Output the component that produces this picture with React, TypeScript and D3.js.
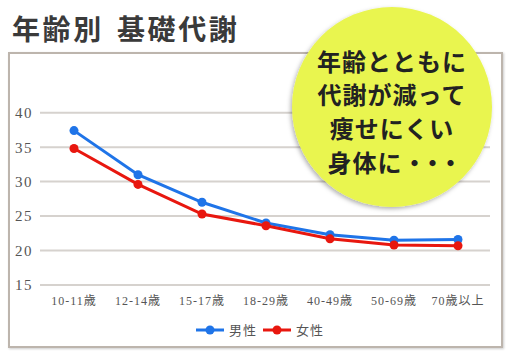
import React from "react";
import * as d3 from "d3";

const categories = ["10-11歳", "12-14歳", "15-17歳", "18-29歳", "40-49歳", "50-69歳", "70歳以上"];
const maleValues = [37.4, 31.0, 27.0, 24.0, 22.3, 21.5, 21.6];
const femaleValues = [34.8, 29.6, 25.3, 23.6, 21.7, 20.8, 20.7];
const yTicks = [15, 20, 25, 30, 35, 40];
const seriesNames = ["男性", "女性"];
const seriesColors = ["#1f74e8", "#e8170f"];
const titleParts = ["年齢別", "基礎代謝"];
const bubbleLines = ["年齢とともに", "代謝が減って", "痩せにくい", "身体に"];
const bubbleDots = "・・・";

const W = 512;
const H = 353;
const serif = "'Liberation Serif', 'Noto Sans CJK JP', serif";
const cjk = "'Noto Sans CJK JP', sans-serif";

export default function App() {
  const x = d3.scalePoint<string>().domain(categories).range([74, 458]);
  const y = d3.scaleLinear().domain([15, 40]).range([285, 112.7]);
  const line = d3
    .line<number>()
    .x((_, i) => x(categories[i]) as number)
    .y((d) => y(d));
  const series = [maleValues, femaleValues];

  return (
    <div style={{ position: "absolute", left: 0, top: 0 }}>
      <svg width={W} height={H} style={{ display: "block", background: "#fff" }}>
        <defs>
          <filter id="bshadow" x="-20%" y="-20%" width="140%" height="140%">
            <feDropShadow dx="-1.5" dy="2" stdDeviation="2" floodColor="#000" floodOpacity="0.3" />
          </filter>
          <filter id="boxshadow" x="-5%" y="-5%" width="110%" height="110%">
            <feDropShadow dx="1" dy="1" stdDeviation="1" floodColor="#000" floodOpacity="0.2" />
          </filter>
        </defs>
        {titleParts.map((t, i) => (
          <text
            key={t}
            x={i === 0 ? 12 : 117}
            y={40}
            fontFamily={cjk}
            fontWeight={700}
            fontSize={28}
            letterSpacing={2.6}
            fill="#3a3a3a"
          >
            {t}
          </text>
        ))}
        <rect
          x={9}
          y={53}
          width={493}
          height={294}
          fill="#fff"
          stroke="#bdb5ad"
          strokeWidth={2}
          filter="url(#boxshadow)"
        />
        {yTicks.map((t) => (
          <g key={t}>
            <line x1={40} x2={490} y1={y(t)} y2={y(t)} stroke="#d6d2ce" strokeWidth={2} />
            <text
              x={33}
              y={y(t)}
              dy="0.36em"
              textAnchor="end"
              fontFamily={serif}
              fontSize={15}
              letterSpacing={1.5}
              fill="#555"
            >
              {t}
            </text>
          </g>
        ))}
        {categories.map((c) => (
          <text
            key={c}
            x={x(c)}
            y={305}
            textAnchor="middle"
            fontFamily={serif}
            fontSize={12}
            letterSpacing={1}
            fill="#555"
          >
            {c}
          </text>
        ))}
        {series.map((s, si) => (
          <g key={si}>
            <path d={line(s) || ""} fill="none" stroke={seriesColors[si]} strokeWidth={3} />
            {s.map((v, i) => (
              <circle key={i} cx={x(categories[i])} cy={y(v)} r={4.5} fill={seriesColors[si]} />
            ))}
          </g>
        ))}
        {seriesNames.map((n, i) => {
          const lx = 196 + i * 67;
          return (
            <g key={n}>
              <line x1={lx} x2={lx + 28} y1={330} y2={330} stroke={seriesColors[i]} strokeWidth={3} />
              <circle cx={lx + 14} cy={330} r={4.5} fill={seriesColors[i]} />
              <text
                x={lx + 33}
                y={330}
                dy="0.36em"
                fontFamily={cjk}
                fontSize={13}
                letterSpacing={1}
                fill="#555"
              >
                {n}
              </text>
            </g>
          );
        })}
        <circle cx={392} cy={107} r={100} fill="#e9f550" filter="url(#bshadow)" />
        {bubbleLines.map((l, i) => (
          <text
            key={i}
            x={392}
            y={62 + i * 33.7}
            dy="0.36em"
            textAnchor="middle"
            fontFamily={cjk}
            fontWeight={700}
            fontSize={24}
            letterSpacing={1}
            fill="#222"
          >
            {l}
            {i === bubbleLines.length - 1 ? (
              <tspan letterSpacing={-6}>{bubbleDots}</tspan>
            ) : null}
          </text>
        ))}
      </svg>
    </div>
  );
}
